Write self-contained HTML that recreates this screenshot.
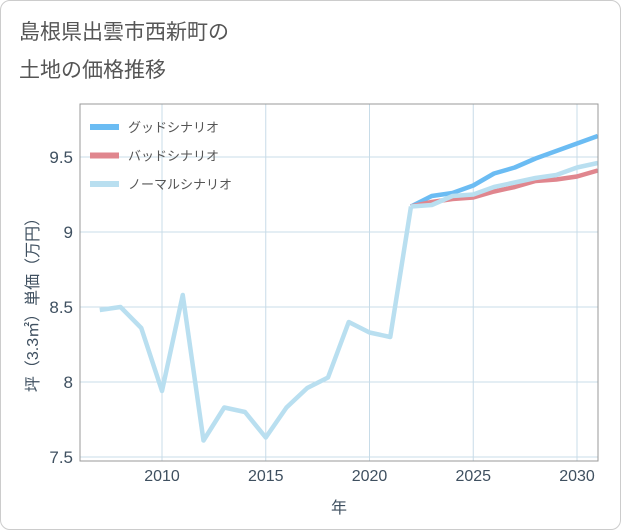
<!DOCTYPE html>
<html><head><meta charset="utf-8"><style>
body{margin:0;background:#fff;font-family:"Liberation Sans","Noto Sans CJK JP",sans-serif;}
#wrap{position:relative;width:619px;height:528px;border:1px solid #ccc;border-radius:10px;overflow:hidden;background:#fff}
</style></head><body>
<div id="wrap">
<svg id="c" width="621" height="530">
<text x="18" y="38" font-size="21" fill="#555" font-family="Liberation Sans, Noto Sans CJK JP, sans-serif">島根県出雲市西新町の</text>
<text x="18" y="76" font-size="21" fill="#555" font-family="Liberation Sans, Noto Sans CJK JP, sans-serif">土地の価格推移</text>
<g id="grid"></g><g id="lines"></g>
<rect x="79" y="103" width="518" height="357" fill="none" stroke="#999" stroke-width="1"/>
<g id="legend"></g>
<text x="338" y="512" font-size="16" fill="#3f5060" text-anchor="middle" font-family="Liberation Sans, Noto Sans CJK JP, sans-serif">年</text>
<text transform="translate(37,300) rotate(-90)" font-size="16" fill="#3f5060" text-anchor="middle" font-family="Liberation Sans, Noto Sans CJK JP, sans-serif">坪（3.3㎡）単価（万円）</text>
</svg></div>
<script>
const histYears=[2007,2008,2009,2010,2011,2012,2013,2014,2015,2016,2017,2018,2019,2020,2021,2022];
const histValues=[8.48,8.50,8.36,7.94,8.58,7.61,7.83,7.80,7.63,7.83,7.96,8.03,8.40,8.33,8.30,9.17];
const futYears=[2022,2023,2024,2025,2026,2027,2028,2029,2030,2031];
const goodValues=[9.17,9.24,9.26,9.31,9.39,9.43,9.49,9.54,9.59,9.64];
const badValues=[9.17,9.20,9.22,9.23,9.27,9.30,9.34,9.35,9.37,9.41];
const normalValues=[9.17,9.18,9.24,9.25,9.30,9.33,9.36,9.38,9.43,9.46];
const xTicks=[2010,2015,2020,2025,2030];
const yTicks=[7.5,8,8.5,9,9.5];
const NS="http://www.w3.org/2000/svg";
const x=v=>161+(v-2010)*20.75;
const y=v=>456-(v-7.5)*150;
const grid=document.getElementById('grid'),lines=document.getElementById('lines'),leg=document.getElementById('legend');
function mk(tag,attrs,parent){const e=document.createElementNS(NS,tag);for(const k in attrs)e.setAttribute(k,attrs[k]);parent.appendChild(e);return e;}
xTicks.forEach(t=>{
 const l=mk('line',{x1:x(t),x2:x(t),y1:103,y2:460,stroke:'#c8dce8','stroke-width':1},grid);
 
 
 const tx=mk('text',{x:x(t),y:480,'font-size':16,fill:'#3f5060','text-anchor':'middle'},grid);
 tx.textContent=t;
 
 
});
yTicks.forEach(t=>{
 const l=mk('line',{x1:79,x2:597,y1:y(t),y2:y(t),stroke:'#c8dce8','stroke-width':1},grid);
 
 
 const tx=mk('text',{x:72,y:y(t)+6,'font-size':17,fill:'#3f5060','text-anchor':'end'},grid);
 tx.textContent=t;
 
 
});
function series(xs,vs,color,name){
 const p=mk('polyline',{points:xs.map((d,i)=>x(d)+','+y(vs[i])).join(' '),fill:'none',stroke:color,'stroke-width':4.5,'stroke-linejoin':'round'},lines);
 
 
}
series(futYears,goodValues,'#6bbcf3','good-scenario-line');
series(futYears,badValues,'#e0868e','bad-scenario-line');
series(futYears,normalValues,'#b9dff0','normal-scenario-line');
series(histYears,histValues,'#b9dff0','historical-line');
const legItems=[['グッドシナリオ','#6bbcf3','legend-good'],['バッドシナリオ','#e0868e','legend-bad'],['ノーマルシナリオ','#b9dff0','legend-normal']];
legItems.forEach((it,i)=>{
 const yy=126+i*28.5;
 const g=mk('g',{},leg);
 
 
 mk('line',{x1:89,x2:118,y1:yy,y2:yy,stroke:it[1],'stroke-width':6},g);
 const t=mk('text',{x:127,y:yy+5,'font-size':13,fill:'#555'},g);
 t.textContent=it[0];
});
</script></body></html>
